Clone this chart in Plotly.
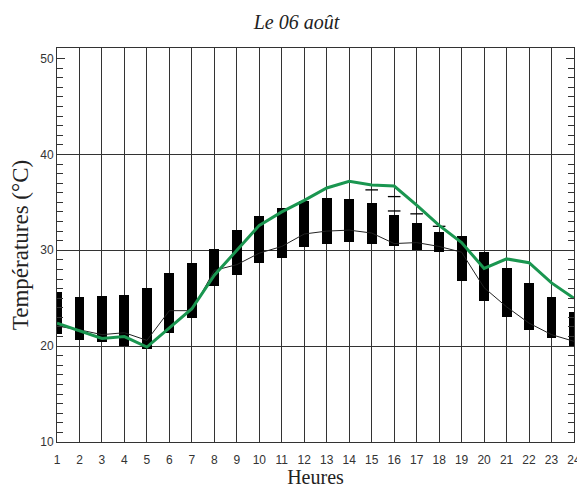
#%% libs
import plotly.graph_objects as go

#%% data
heures = list(range(1, 25))

# observed temperature (green)
obs = [22.4, 21.6, 20.8, 21.0, 19.9, 21.9, 23.9, 27.4, 30.0, 32.6, 34.0, 35.2,
       36.5, 37.2, 36.8, 36.7, 34.7, 32.6, 30.8, 28.1, 29.1, 28.7, 26.6, 25.0]

# ensemble mean (thin black)
moyenne = [22.1, 21.7, 21.2, 21.4, 20.6, 23.7, 23.7, 27.9, 28.5, 29.7, 30.4, 31.7,
           32.0, 32.1, 31.8, 30.7, 30.8, 30.4, 29.8, 26.1, 24.1, 22.4, 21.2, 20.5]

# ensemble spread (black boxes)
mini = [21.3, 20.6, 20.4, 20.0, 19.7, 21.4, 22.9, 26.3, 27.4, 28.7, 29.2, 30.3,
        30.7, 30.9, 30.7, 30.4, 30.0, 29.8, 26.8, 24.7, 23.0, 21.7, 20.8, 19.9]
maxi = [25.6, 25.1, 25.2, 25.3, 26.1, 27.6, 28.7, 30.1, 32.1, 33.6, 34.4, 35.1,
        35.5, 35.3, 34.9, 33.7, 32.8, 31.9, 31.5, 29.8, 28.2, 26.6, 25.1, 23.6]

# isolated members above the boxes
out_h = [15, 16, 16, 17, 18]
out_v = [36.3, 35.6, 34.1, 33.8, 32.5]

y_ticks = [10, 20, 30, 40, 50]
grid_y = [20, 30, 40]
y_range = [10, 51.1]

#%% plot
fig = go.Figure()

fig.add_trace(go.Bar(x=heures, y=[b - a for a, b in zip(mini, maxi)], base=mini,
                     width=0.44, marker=dict(color="black", line=dict(width=0)),
                     showlegend=False))
fig.add_trace(go.Scatter(x=out_h, y=out_v, mode="markers",
                         marker=dict(symbol="line-ew", size=9, color="black",
                                     line=dict(width=1.3, color="black")),
                         showlegend=False))
fig.add_trace(go.Scatter(x=heures, y=moyenne, mode="lines",
                         line=dict(color="#222222", width=1), showlegend=False))
fig.add_trace(go.Scatter(x=heures, y=obs, mode="lines",
                         line=dict(color="#1a9650", width=3), showlegend=False))
# dummy traces so the overlay axes (horizontal grid, right ticks) are drawn
fig.add_trace(go.Scatter(x=[None], y=[None], yaxis="y2", showlegend=False))
fig.add_trace(go.Scatter(x=[None], y=[None], yaxis="y3", showlegend=False))

tick_font = dict(family="Liberation Sans", size=12, color="#333")

# the page body has an 8px margin, so the figure is 8px smaller than the window
fig.update_layout(
    width=577, height=480,
    margin=dict(l=49, r=11, t=40, b=46),
    paper_bgcolor="white", plot_bgcolor="white",
    bargap=0,
    title=dict(text="<i>Le 06 août</i>", x=0.5, xanchor="center",
               y=0.971, yanchor="middle",
               font=dict(family="Liberation Serif", size=20, color="#222")),
    xaxis=dict(range=[1, 24], tickvals=heures, showgrid=True, gridcolor="#333",
               gridwidth=1, showline=True, linecolor="#333", linewidth=1, mirror=True,
               ticks="", zeroline=False, automargin=False, ticklabelstandoff=7,
               tickfont=tick_font,
               title=dict(text="Heures", standoff=6,
                          font=dict(family="Liberation Serif", size=20, color="#222"))),
    yaxis=dict(range=y_range, tickvals=y_ticks, showgrid=False,
               showline=True, linecolor="#333", linewidth=1, mirror=True,
               ticks="inside", ticklen=8, tickcolor="#333", zeroline=False,
               automargin=False,
               minor=dict(dtick=1, ticks="inside", ticklen=6, tickcolor="#333"),
               tickfont=tick_font,
               title=dict(text="Températures (°C)", standoff=8,
                          font=dict(family="Liberation Serif", size=23, color="#222"))),
    yaxis2=dict(range=y_range, overlaying="y", tickvals=grid_y, showgrid=True,
                gridcolor="#333", gridwidth=1, showticklabels=False, ticks="",
                zeroline=False, showline=False, automargin=False),
    yaxis3=dict(range=y_range, overlaying="y", side="right", tickvals=y_ticks,
                showgrid=False, showticklabels=False, ticks="inside", ticklen=8,
                tickcolor="#333", zeroline=False, showline=False, automargin=False,
                minor=dict(dtick=1, ticks="inside", ticklen=6, tickcolor="#333")),
)

#%% export
fig.write_html("out.html")
